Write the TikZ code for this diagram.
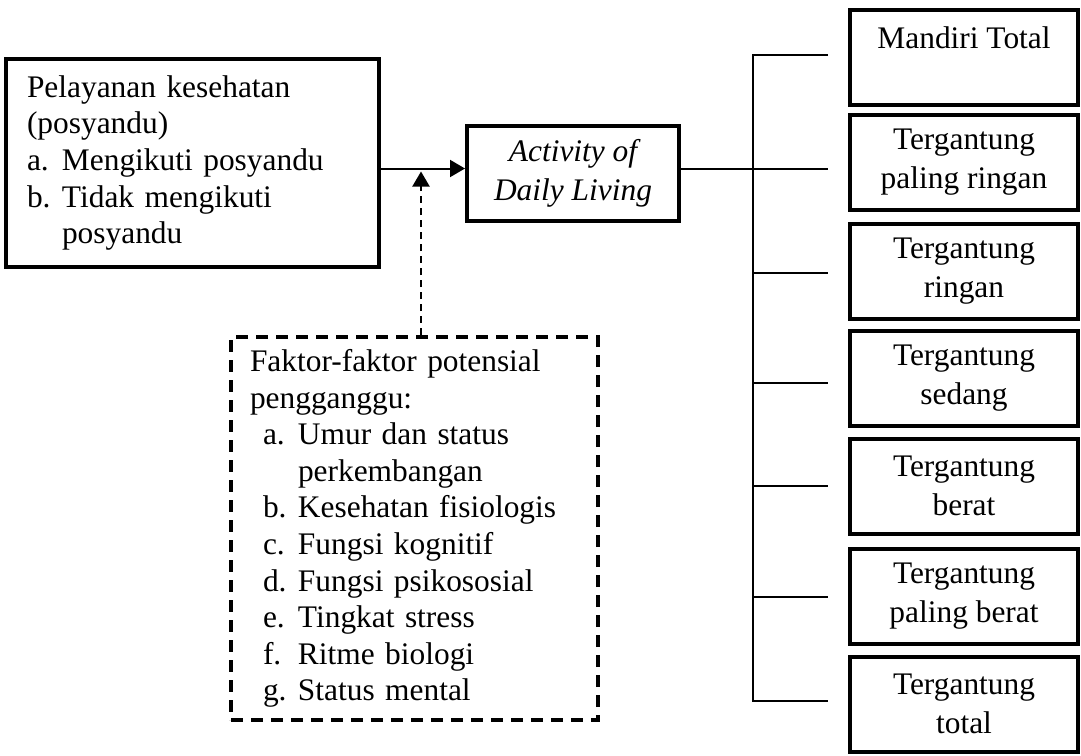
\documentclass[tikz,border=0pt]{standalone}
\usepackage{fontspec}
\setmainfont{Liberation Serif}
\usetikzlibrary{arrows.meta}

\newcommand{\ukuran}{\fontsize{15.7}{18.3}\selectfont}
\newcommand{\ukuranlebar}{\fontsize{15.7}{19.5}\selectfont}
\newcommand{\butir}[1]{\makebox[17.5pt][l]{#1}}

\begin{document}
\begin{tikzpicture}[x=0.5pt, y=-0.5pt, >={Triangle[length=7.5pt,width=8.5pt]}, font=\ukuran,
  kotak/.style={draw, rectangle, line width=2pt, inner sep=0pt},
  garis/.style={line width=1pt},
  putus/.style={dash pattern=on 3.5pt off 2.5pt}]

\useasboundingbox (0,0) rectangle (1081,755);

% Definição das caixas.

\node [kotak, minimum width=186.5pt, minimum height=104pt, text width=165.5pt,
  inner xsep=10.5pt, align=left] (layanan) at (192.5,163)
  {Pelayanan kesehatan\\ (posyandu)\\ \butir{a.}Mengikuti posyandu\\
   \butir{b.}Tidak mengikuti\\ \butir{}posyandu};

\node [kotak, minimum width=106pt, minimum height=47.5pt, align=center,
  font=\ukuranlebar\itshape] (adl) at (573,173.5) {Activity of\\ Daily Living};

\node [kotak, dash pattern=on 6pt off 4pt, minimum width=183.5pt, minimum height=191.5pt,
  text width=164.5pt, inner xsep=9.5pt, align=left] (faktor) at (414.5,528.5)
  {Faktor-faktor potensial\\ pengganggu:\\
   \hspace*{6.5pt}\butir{a.}Umur dan status\\
   \hspace*{6.5pt}\butir{}perkembangan\\
   \hspace*{6.5pt}\butir{b.}Kesehatan fisiologis\\
   \hspace*{6.5pt}\butir{c.}Fungsi kognitif\\
   \hspace*{6.5pt}\butir{d.}Fungsi psikososial\\
   \hspace*{6.5pt}\butir{e.}Tingkat stress\\
   \hspace*{6.5pt}\butir{f.}Ritme biologi\\
   \hspace*{6.5pt}\butir{g.}Status mental};

\foreach \t/\y [count=\i] in {{Mandiri Total\\~}/57.5, {Tergantung\\paling ringan}/162.5,
    {Tergantung\\ringan}/271, {Tergantung\\sedang}/378, {Tergantung\\berat}/486,
    {Tergantung\\paling berat}/596, {Tergantung\\total}/704}
  \node [kotak, minimum width=114pt, minimum height=47.5pt, align=center,
    font=\ukuranlebar] (skala-\i) at (964,\y) {\t};

% Definição das linhas.

\coordinate (tengah) at (421,168.5);
\coordinate (pengaruh) at (421,171.5);
\coordinate (tulang) at (753,168.5);

\foreach \y [count=\i] in {55,169,273,383,486,597,701}
  \coordinate (ujung-\i) at (828,\y);

\draw [garis, ->] (layanan.east |- tengah) -- (adl.west |- tengah);
\draw [garis, putus, ->] (faktor.north -| pengaruh) -- (pengaruh);
\draw [garis] (adl.east |- tengah) -- (tulang);

\draw [garis] (ujung-1) -- (ujung-1 -| tulang) -- (ujung-7 -| tulang) -- (ujung-7);
\foreach \i in {2,...,6}
  \draw [garis] (ujung-\i -| tulang) -- (ujung-\i);

\end{tikzpicture}
\end{document}
